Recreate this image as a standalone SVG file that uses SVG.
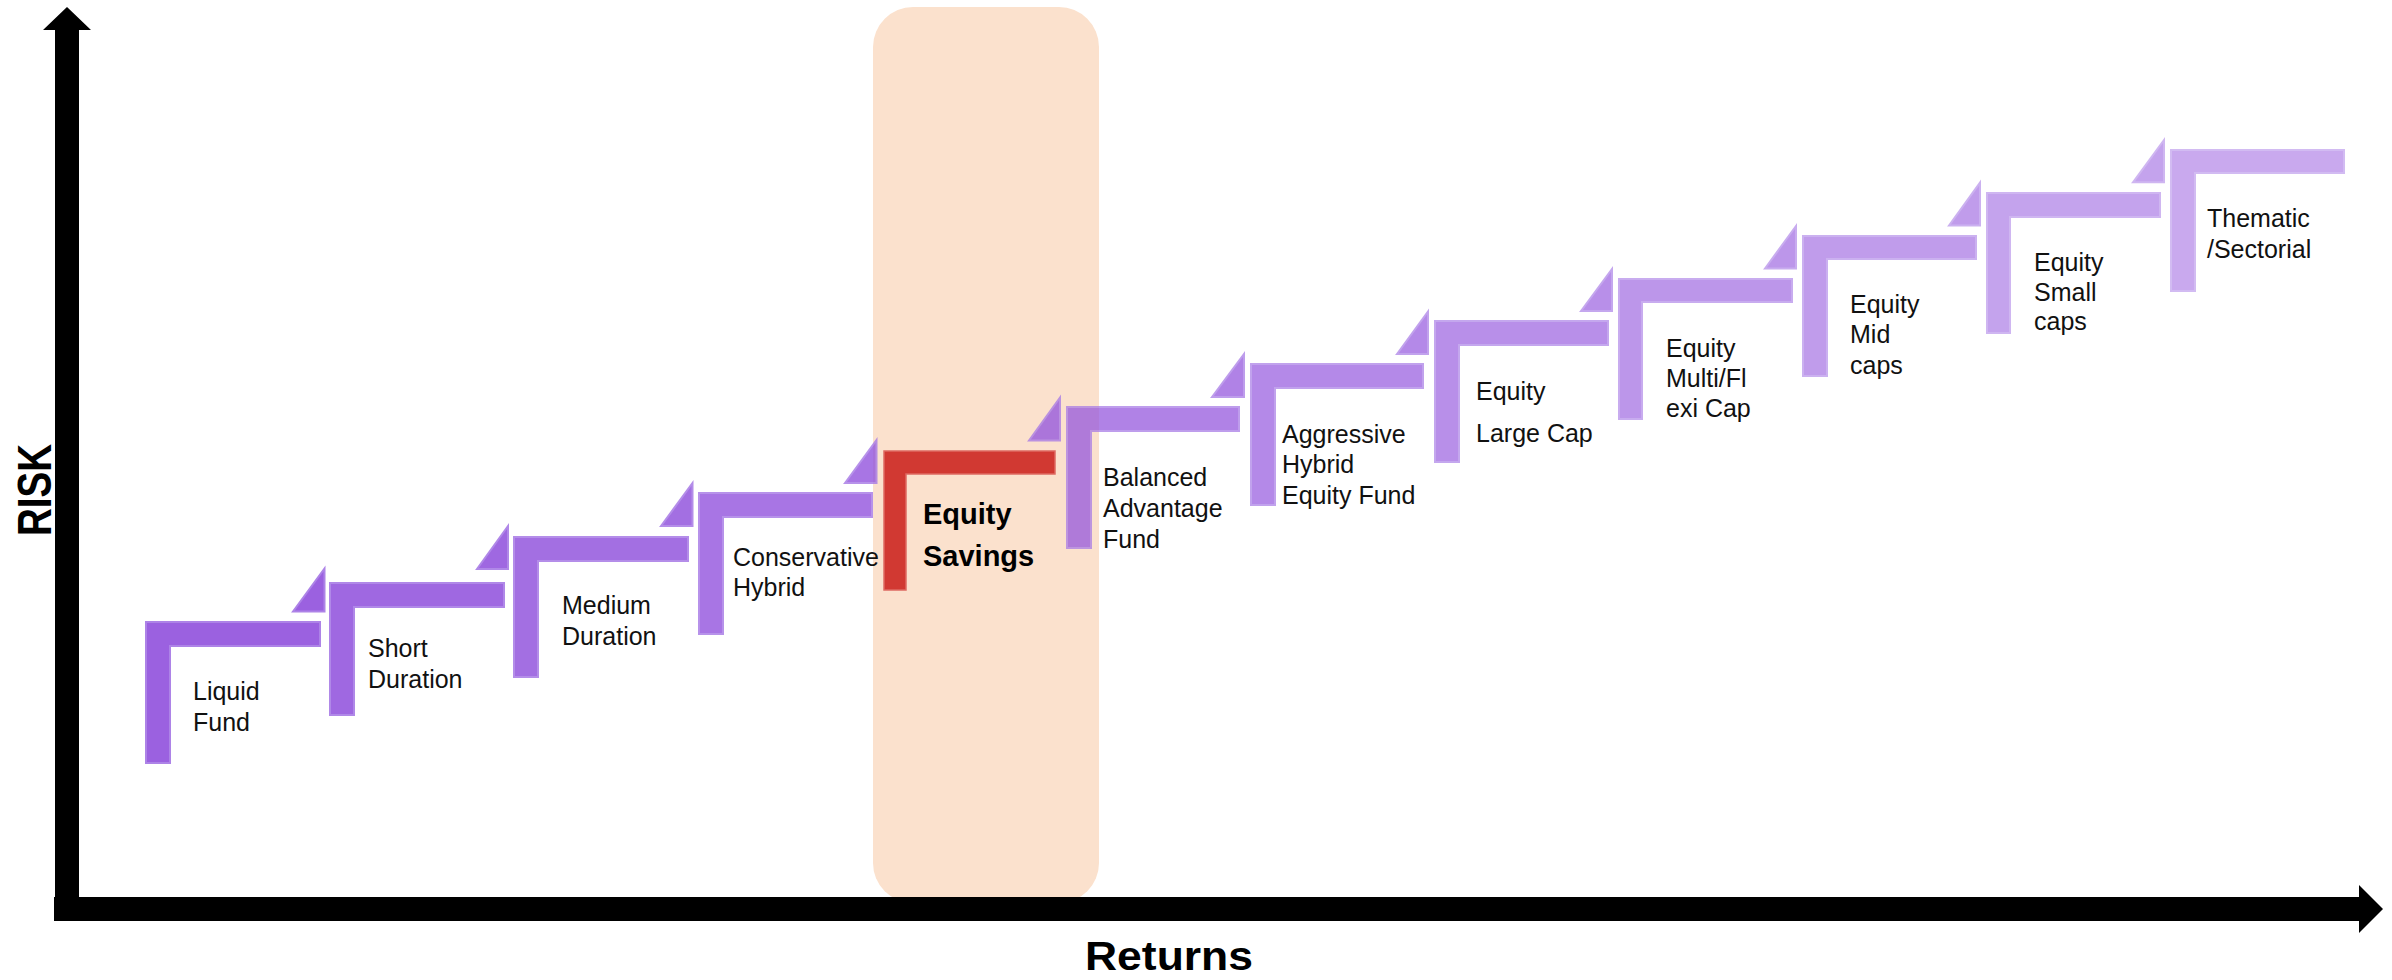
<svg xmlns="http://www.w3.org/2000/svg" width="2392" height="980" viewBox="0 0 2392 980">
<style>
.step{fill:#9456DE;stroke:#A77AE6;stroke-width:2}
.red{fill:#D13932;stroke:#DE6A62;stroke-width:1.5}
.lbl{font-family:"Liberation Sans",Arial,sans-serif;font-size:25px;fill:#111}
.bold{font-family:"Liberation Sans",Arial,sans-serif;font-weight:bold;fill:#000}
.axis{fill:#000}
</style>
<rect width="2392" height="980" fill="#fff"/>
<g id="highlight">
<rect x="873" y="7" width="226" height="896" rx="40" ry="40" fill="#FBE1CD"/>
</g>
<g id="connectors">
<path class="axis" d="M55,30 H43 L67,7 L91,30 H79 V897 H2359 V885 L2383,909 L2359,933 V921 H54 V897 H55 Z"/>
</g>
<g id="step-liquid" opacity="0.93">
<path class="step" d="M146,622 H320 V646 H170 V763 H146 Z"/>
<path class="step" d="M293,611.5 L324.5,568.5 V611.5 Z"/>
</g>
<g id="label-liquid"><text class="lbl" x="193" y="700">Liquid</text><text class="lbl" x="193" y="731">Fund</text></g>
<g id="step-short" opacity="0.891">
<path class="step" d="M330,583 H504 V607 H354 V715 H330 Z"/>
<path class="step" d="M477,569 L508,526 V569 Z"/>
</g>
<g id="label-short"><text class="lbl" x="368" y="657">Short</text><text class="lbl" x="368" y="688">Duration</text></g>
<g id="step-medium" opacity="0.852">
<path class="step" d="M514,537 H688 V561 H538 V677 H514 Z"/>
<path class="step" d="M661,526 L692.5,483 V526 Z"/>
</g>
<g id="label-medium"><text class="lbl" x="562" y="614">Medium</text><text class="lbl" x="562" y="645">Duration</text></g>
<g id="step-conservative" opacity="0.813">
<path class="step" d="M699,493 H872 V517 H723 V634 H699 Z"/>
<path class="step" d="M845,483 L876.5,440 V483 Z"/>
</g>
<g id="label-conservative"><text class="lbl" x="733" y="566">Conservative</text><text class="lbl" x="733" y="596">Hybrid</text></g>
<g id="step-equity-savings">
<path class="red" d="M884,451 H1055 V474 H906 V590 H884 Z"/>
<path class="step" opacity="0.774" d="M1029,440.5 L1060,397.5 V440.5 Z"/>
<text class="bold" font-size="29" x="923" y="523.5">Equity</text>
<text class="bold" font-size="29" x="923" y="565.7">Savings</text>
</g>
<g id="step-balanced" opacity="0.735">
<path class="step" d="M1067,407 H1239 V431 H1091 V548 H1067 Z"/>
<path class="step" d="M1212,397 L1244,354 V397 Z"/>
</g>
<g id="label-balanced"><text class="lbl" x="1103" y="486">Balanced</text><text class="lbl" x="1103" y="517">Advantage</text><text class="lbl" x="1103" y="548">Fund</text></g>
<g id="step-aggressive" opacity="0.696">
<path class="step" d="M1251,364 H1423 V388 H1275 V505 H1251 Z"/>
<path class="step" d="M1397,354 L1428,311.5 V354 Z"/>
</g>
<g id="label-aggressive"><text class="lbl" x="1282" y="443">Aggressive</text><text class="lbl" x="1282" y="473">Hybrid</text><text class="lbl" x="1282" y="504">Equity Fund</text></g>
<g id="step-large-cap" opacity="0.657">
<path class="step" d="M1435,321 H1608 V345 H1459 V462 H1435 Z"/>
<path class="step" d="M1581,311 L1612,269 V311 Z"/>
</g>
<g id="label-large-cap"><text class="lbl" x="1476" y="400">Equity</text><text class="lbl" x="1476" y="442">Large Cap</text></g>
<g id="step-multi-flexi" opacity="0.618">
<path class="step" d="M1619,279 H1792 V302 H1642 V419 H1619 Z"/>
<path class="step" d="M1765,268.5 L1796,226 V268.5 Z"/>
</g>
<g id="label-multi-flexi"><text class="lbl" x="1666" y="357">Equity</text><text class="lbl" x="1666" y="387">Multi/Fl</text><text class="lbl" x="1666" y="417">exi Cap</text></g>
<g id="step-mid-caps" opacity="0.579">
<path class="step" d="M1803,236 H1976 V259 H1827 V376 H1803 Z"/>
<path class="step" d="M1949,225.5 L1980,182.7 V225.5 Z"/>
</g>
<g id="label-mid-caps"><text class="lbl" x="1850" y="313">Equity</text><text class="lbl" x="1850" y="343">Mid</text><text class="lbl" x="1850" y="374">caps</text></g>
<g id="step-small-caps" opacity="0.54">
<path class="step" d="M1987,193 H2160 V217 H2010 V333 H1987 Z"/>
<path class="step" d="M2133,182.3 L2164,140 V182.3 Z"/>
</g>
<g id="label-small-caps"><text class="lbl" x="2034" y="271">Equity</text><text class="lbl" x="2034" y="301">Small</text><text class="lbl" x="2034" y="330">caps</text></g>
<g id="step-thematic" opacity="0.501">
<path class="step" d="M2171,150 H2344 V173 H2195 V291 H2171 Z"/>
</g>
<g id="label-thematic"><text class="lbl" x="2207" y="227">Thematic</text><text class="lbl" x="2207" y="258">/Sectorial</text></g>
<g id="axis-labels">
<text class="bold" font-size="49" transform="translate(51,536) rotate(-90)" textLength="92" lengthAdjust="spacingAndGlyphs">RISK</text>
<text class="bold" font-size="40" x="1085" y="970" textLength="168" lengthAdjust="spacingAndGlyphs">Returns</text>
</g>
</svg>
